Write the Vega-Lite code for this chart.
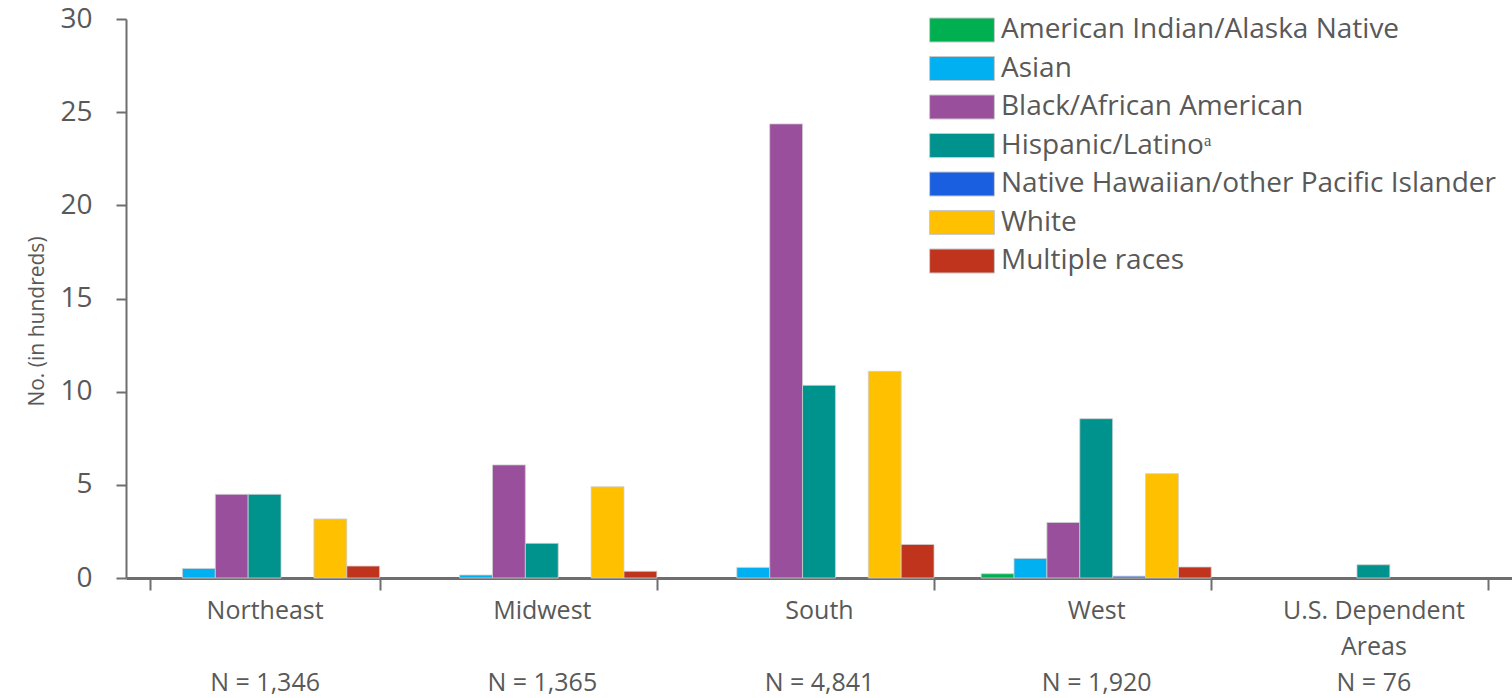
{
  "$schema": "https://vega.github.io/schema/vega-lite/v6.json",
  "width": 1386,
  "height": 559,
  "autosize": {"type": "none"},
  "padding": {"left": 126, "top": 19, "right": 0, "bottom": 120},
  "background": "white",
  "config": {
    "view": {"stroke": null},
    "font": "Open Sans",
    "axis": {"labelColor": "#595959", "titleColor": "#595959", "domainColor": "#6e6e6e", "tickColor": "#6e6e6e", "grid": false}
  },
  "data": {
    "values": [
      {"region": "Northeast", "race": "Asian", "value": 0.51},
      {"region": "Northeast", "race": "Black/African American", "value": 4.49},
      {"region": "Northeast", "race": "Hispanic/Latinoᵃ", "value": 4.49},
      {"region": "Northeast", "race": "White", "value": 3.17},
      {"region": "Northeast", "race": "Multiple races", "value": 0.64},
      {"region": "Midwest", "race": "Asian", "value": 0.16},
      {"region": "Midwest", "race": "Black/African American", "value": 6.07},
      {"region": "Midwest", "race": "Hispanic/Latinoᵃ", "value": 1.86},
      {"region": "Midwest", "race": "White", "value": 4.9},
      {"region": "Midwest", "race": "Multiple races", "value": 0.36},
      {"region": "South", "race": "Asian", "value": 0.57},
      {"region": "South", "race": "Black/African American", "value": 24.37},
      {"region": "South", "race": "Hispanic/Latinoᵃ", "value": 10.34},
      {"region": "South", "race": "White", "value": 11.09},
      {"region": "South", "race": "Multiple races", "value": 1.8},
      {"region": "West", "race": "American Indian/Alaska Native", "value": 0.23},
      {"region": "West", "race": "Asian", "value": 1.05},
      {"region": "West", "race": "Black/African American", "value": 2.98},
      {"region": "West", "race": "Hispanic/Latinoᵃ", "value": 8.55},
      {"region": "West", "race": "Native Hawaiian/other Pacific Islander", "value": 0.1},
      {"region": "West", "race": "White", "value": 5.6},
      {"region": "West", "race": "Multiple races", "value": 0.59},
      {"region": "U.S. Dependent Areas", "race": "Hispanic/Latinoᵃ", "value": 0.71}
    ]
  },
  "mark": {"type": "bar", "stroke": "#cfcfcf", "strokeWidth": 0.8},
  "encoding": {
    "x": {
      "field": "region",
      "type": "nominal",
      "sort": ["Northeast", "Midwest", "South", "West", "U.S. Dependent Areas"],
      "scale": {"paddingInner": 0.17, "paddingOuter": 0.085},
      "axis": {
        "title": null,
        "labelAngle": 0,
        "labelFontSize": 25,
        "labelLineHeight": 36,
        "labelBaseline": "top",
        "labelPadding": 8,
        "labelLimit": 400,
        "tickBand": "extent",
        "tickSize": 12,
        "tickWidth": 2,
        "domainWidth": 3,
        "labelExpr": "datum.value == 'Northeast' ? ['Northeast', '\u200b', 'N = 1,346'] : datum.value == 'Midwest' ? ['Midwest', '\u200b', 'N = 1,365'] : datum.value == 'South' ? ['South', '\u200b', 'N = 4,841'] : datum.value == 'West' ? ['West', '\u200b', 'N = 1,920'] : datum.value == 'U.S. Dependent Areas' ? ['U.S. Dependent', 'Areas', 'N = 76'] : ''"
      }
    },
    "xOffset": {
      "field": "race",
      "type": "nominal",
      "scale": {"domain": ["American Indian/Alaska Native", "Asian", "Black/African American", "Hispanic/Latinoᵃ", "Native Hawaiian/other Pacific Islander", "White", "Multiple races"], "paddingInner": 0, "paddingOuter": 0}
    },
    "y": {
      "field": "value",
      "type": "quantitative",
      "scale": {"domain": [0, 30], "nice": false},
      "axis": {
        "title": "No. (in hundreds)",
        "titleFontSize": 21,
        "titleFontWeight": "normal",
        "titlePadding": 12,
        "titleY": 302,
        "values": [0, 5, 10, 15, 20, 25, 30],
        "labelFontSize": 28,
        "labelPadding": 24,
        "tickSize": 10,
        "tickWidth": 2,
        "domainWidth": 2
      }
    },
    "color": {
      "field": "race",
      "type": "nominal",
      "scale": {
        "domain": ["American Indian/Alaska Native", "Asian", "Black/African American", "Hispanic/Latinoᵃ", "Native Hawaiian/other Pacific Islander", "White", "Multiple races"],
        "range": ["#00b050", "#00b0f0", "#9a4f9c", "#00928d", "#1a5fe0", "#ffc000", "#c0341d"]
      },
      "legend": {
        "title": null,
        "orient": "none",
        "legendX": 822,
        "legendY": -3,
        "symbolType": "M-2.7,-1H2.7V1H-2.7Z",
        "symbolSize": 576,
        "symbolStrokeColor": "#c8c8c8",
        "symbolStrokeWidth": 1,
        "symbolOpacity": 1,
        "labelFontSize": 28,
        "labelColor": "#595959",
        "labelOffset": 25,
        "labelLimit": 600,
        "rowPadding": 10.5
      }
    }
  }
}
